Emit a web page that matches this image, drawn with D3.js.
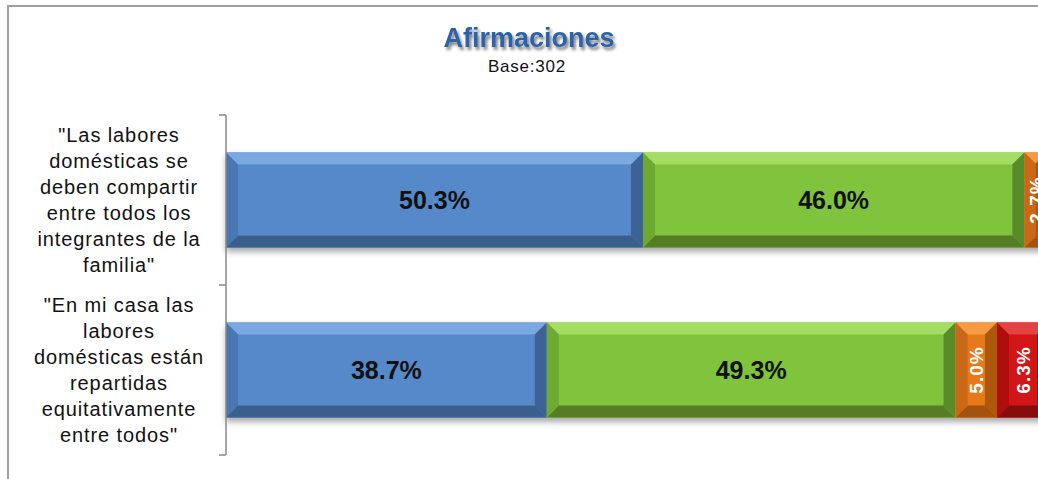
<!DOCTYPE html>
<html>
<head>
<meta charset="utf-8">
<script src="https://cdn.jsdelivr.net/npm/d3@7"></script>
<style>
  body { margin: 0; background: #fff; }
  svg { display: block; }
</style>
</head>
<body>
<svg width="1038" height="479"></svg>
<script>
var svg = d3.select("svg");

// data
var categoryLines = [
  ['"Las labores', 'domésticas se', 'deben compartir', 'entre todos los', 'integrantes de la', 'familia"'],
  ['"En mi casa las', 'labores', 'domésticas están', 'repartidas', 'equitativamente', 'entre todos"']
];
var categories = ["c1", "c2"];
var series1 = [50.3, 38.7];
var series2 = [46.0, 49.3];
var series3 = [2.7, 5.0];
var series4 = [1.0, 6.3];
var allSeries = [series1, series2, series3, series4];

// bevel colours per series: face, top, bottom, left, right
var shades = [
  {face: "#5689c9", top: "#7aa8e0", bottom: "#3a5e8c", left: "#4a77b1", right: "#3d6396"},
  {face: "#80c33d", top: "#a3dd63", bottom: "#547d28", left: "#6ea933", right: "#5a8b2b"},
  {face: "#e5791a", top: "#f59b45", bottom: "#a3520b", left: "#c96812", right: "#ae590e"},
  {face: "#d01212", top: "#e74343", bottom: "#870909", left: "#b00d0d", right: "#950b0b"}
];

var x = d3.scaleLinear().domain([0, 100]).range([226, 1055]);
var y = d3.scaleBand().domain(categories).range([115, 455]).paddingInner(0.44).paddingOuter(0.22);

var defs = svg.append("defs");
var sh = defs.append("filter").attr("id", "shadow").attr("x", "-5%").attr("y", "-20%").attr("width", "110%").attr("height", "160%");
sh.append("feDropShadow").attr("dx", 0).attr("dy", 4).attr("stdDeviation", 3).attr("flood-color", "#000").attr("flood-opacity", 0.35);
var tsh = defs.append("filter").attr("id", "tshadow").attr("x", "-10%").attr("y", "-30%").attr("width", "120%").attr("height", "180%");
tsh.append("feDropShadow").attr("dx", 2).attr("dy", 3).attr("stdDeviation", 1.8).attr("flood-color", "#000").attr("flood-opacity", 0.5);

// outer frame (only top and left edges show)
svg.append("path").attr("d", "M8,1038 V6 H1040")
  .attr("fill", "none").attr("stroke", "#a0a0a0").attr("stroke-width", 2);

// title
svg.append("text").attr("x", 529).attr("y", 47).attr("text-anchor", "middle")
  .attr("font-family", "Liberation Sans, Arial, sans-serif").attr("font-weight", "bold")
  .attr("font-size", 27).attr("fill", "#2f62a6").attr("filter", "url(#tshadow)")
  .text("Afirmaciones");
svg.append("text").attr("x", 527).attr("y", 72).attr("text-anchor", "middle")
  .attr("font-family", "Liberation Sans, Arial, sans-serif")
  .attr("font-size", 17).attr("letter-spacing", 0.8).attr("fill", "#111")
  .text("Base:302");

// stacked segments
var stacked = categories.map(function(c, i) {
  var acc = 0;
  return allSeries.map(function(s, k) {
    var seg = {cat: c, k: k, v: s[i], x0: acc, x1: acc + s[i]};
    acc += s[i];
    return seg;
  });
});

var rows = svg.append("g").selectAll("g").data(stacked).join("g");

rows.each(function(segs) {
  var g = d3.select(this);
  var bars = g.append("g").attr("filter", "url(#shadow)");
  segs.forEach(function(d) {
    var a = x(d.x0), b = x(d.x1), t = y(d.cat), btm = t + y.bandwidth();
    var bv = Math.min(12, (b - a) / 2);
    var c = shades[d.k];
    var sg = bars.append("g");
    sg.append("rect").attr("x", a).attr("y", t).attr("width", b - a).attr("height", btm - t).attr("fill", c.face);
    var poly = function(pts, col) {
      sg.append("polygon").attr("points", pts.map(function(p) { return p.join(","); }).join(" ")).attr("fill", col);
    };
    poly([[a, t], [b, t], [b - bv, t + bv], [a + bv, t + bv]], c.top);
    poly([[a, btm], [b, btm], [b - bv, btm - bv], [a + bv, btm - bv]], c.bottom);
    poly([[a, t], [a + bv, t + bv], [a + bv, btm - bv], [a, btm]], c.left);
    poly([[b, t], [b - bv, t + bv], [b - bv, btm - bv], [b, btm]], c.right);
  });
  // value labels
  segs.forEach(function(d) {
    var cx = (x(d.x0) + x(d.x1)) / 2, cy = y(d.cat) + y.bandwidth() / 2;
    var label = d.v.toFixed(1) + "%";
    if (d.v >= 10) {
      g.append("text").attr("x", cx).attr("y", cy + 9).attr("text-anchor", "middle")
        .attr("font-family", "Liberation Sans, Arial, sans-serif").attr("font-weight", "bold")
        .attr("font-size", 25).attr("fill", "#111").text(label);
    } else if (d.v >= 2) {
      g.append("text").attr("transform", "translate(" + (cx + 7) + "," + cy + ") rotate(-90)")
        .attr("text-anchor", "middle")
        .attr("font-family", "Liberation Sans, Arial, sans-serif").attr("font-weight", "bold")
        .attr("font-size", 19).attr("letter-spacing", 1).attr("fill", "#fff").text(label);
    }
  });
});

// category axis
var axis = svg.append("g");
axis.append("line").attr("x1", 226).attr("x2", 226).attr("y1", y.range()[0]).attr("y2", y.range()[1])
  .attr("stroke", "#888").attr("stroke-width", 1.5);
d3.range(categories.length + 1).forEach(function(i) {
  var ty = y.range()[0] + i * y.step();
  axis.append("line").attr("x1", 219).attr("x2", 226).attr("y1", ty).attr("y2", ty)
    .attr("stroke", "#888").attr("stroke-width", 1.5);
});

categories.forEach(function(c, i) {
  var lines = categoryLines[i];
  var cy = y(c) + y.bandwidth() / 2;
  var lh = 26;
  var t = svg.append("text").attr("text-anchor", "middle")
    .attr("font-family", "Liberation Sans, Arial, sans-serif")
    .attr("font-size", 20).attr("letter-spacing", 0.9).attr("fill", "#111");
  lines.forEach(function(l, j) {
    t.append("tspan").attr("x", 119).attr("y", cy - (lines.length - 1) * lh / 2 + j * lh + 7).text(l);
  });
});
</script>
</body>
</html>
